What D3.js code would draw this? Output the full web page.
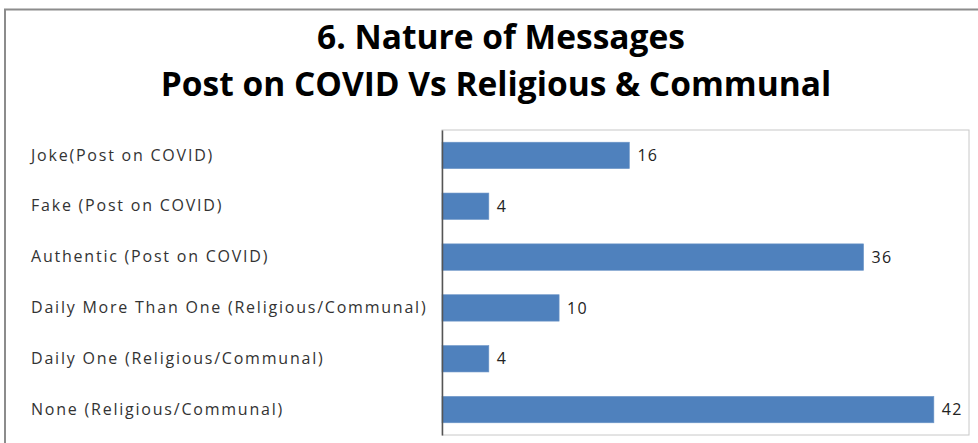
<!DOCTYPE html>
<html><head><meta charset="utf-8">
<script src="https://cdn.jsdelivr.net/npm/d3@7"></script>
<style>body{margin:0;background:#fff;}svg{display:block;}</style>
</head><body>
<svg id="c" width="978" height="443"></svg>
<script>
const categories = ["Joke(Post on COVID)","Fake (Post on COVID)","Authentic (Post on COVID)","Daily More Than One (Religious/Communal)","Daily One (Religious/Communal)","None (Religious/Communal)"];
const values = [16,4,36,10,4,42];
const titleLines = ["6. Nature of Messages","Post on COVID Vs Religious & Communal"];

const svg = d3.select("#c");
const font = "'Open Sans', 'DejaVu Sans', sans-serif";
// outer chart border
svg.append("rect").attr("x",5).attr("y",9.5).attr("width",990).attr("height",460)
  .attr("fill","#fff").attr("stroke","#8c8c8c").attr("stroke-width",2);

const L=442,R=969,T=130,B=435;
svg.append("rect").attr("x",L).attr("y",T).attr("width",R-L).attr("height",B-T)
  .attr("fill","#fff").attr("stroke","#c8c8c8").attr("stroke-width",1);

const x = d3.scaleLinear().domain([0,45]).range([L,R]);
const y = d3.scaleBand().domain(categories).range([T,B]).paddingInner(0.48).paddingOuter(0.24);

svg.selectAll("rect.bar").data(categories).enter().append("rect").attr("class","bar")
  .attr("x",x(0)).attr("y",d=>y(d)).attr("height",y.bandwidth())
  .attr("width",(d,i)=>x(values[i])-x(0))
  .attr("fill","#4f81bd").attr("stroke","#6f97c8").attr("stroke-width",0.6);

svg.selectAll("text.val").data(categories).enter().append("text").attr("class","val")
  .attr("x",(d,i)=>x(values[i])+8).attr("y",d=>y(d)+y.bandwidth()/2)
  .attr("dy","0.35em").attr("font-family",font).attr("font-size",16).attr("letter-spacing",1.2).attr("fill","#222")
  .text((d,i)=>values[i]);

const yAxis = svg.append("g").attr("transform",`translate(${L},0)`).call(d3.axisLeft(y).tickSize(0).tickPadding(0));
yAxis.select(".domain").attr("stroke","#555").attr("stroke-width",1.5);
yAxis.selectAll("text").attr("x",31-L).attr("text-anchor","start")
  .attr("font-family",font).attr("font-size",16).attr("letter-spacing",1.78).attr("fill","#333");

svg.selectAll("text.title").data(titleLines).enter().append("text").attr("class","title")
  .attr("x",(d,i)=>i===0?501:496).attr("y",(d,i)=>49+i*47).attr("text-anchor","middle")
  .attr("font-family",font).attr("font-weight","bold").attr("font-size",33.5).attr("fill","#000")
  .text(d=>d);
</script>
</body></html>
